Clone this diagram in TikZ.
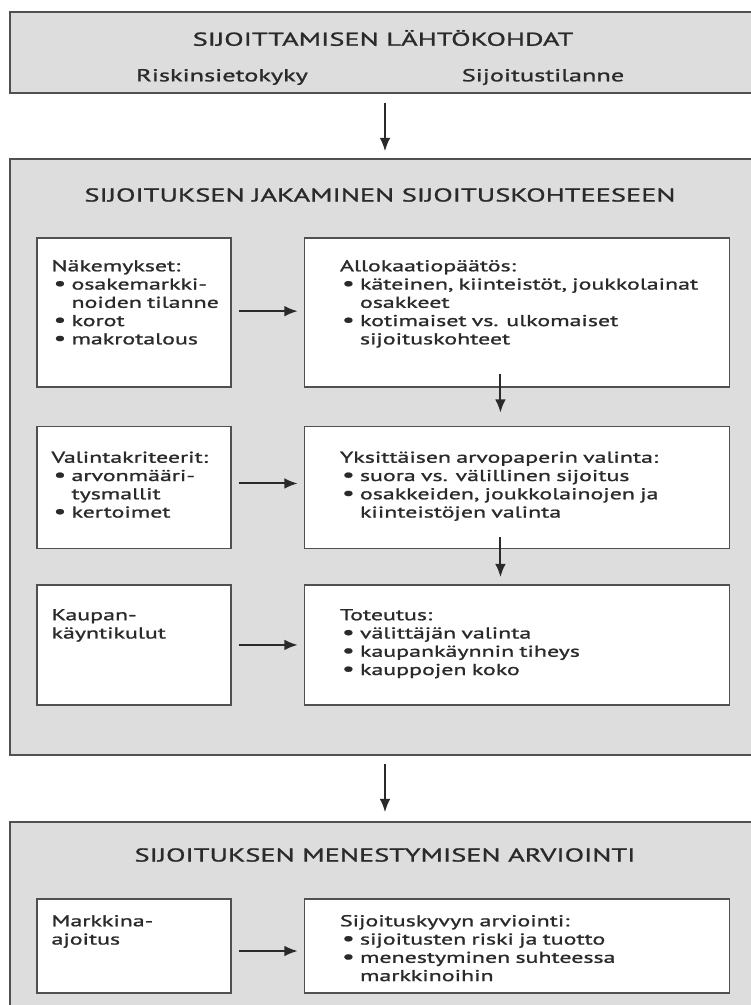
\documentclass[tikz,border=0pt]{standalone}
\usepackage{fontspec}
\setmainfont{PT Sans}[FakeStretch=1.52,FakeBold=1.2]
\usetikzlibrary{positioning}
\usetikzlibrary{arrows.meta}
\definecolor{panelgray}{HTML}{DDDDDD}
\definecolor{linegray}{HTML}{505050}
\definecolor{inkgray}{HTML}{2A2A2A}
\newcommand*{\titlefont}{\fontsize{14}{16}\selectfont}
\newcommand*{\subfont}{\fontsize{13}{15}\selectfont}
\newcommand*{\bodyfont}{\fontsize{11.8}{13.7}\selectfont}
\newcommand*{\blt}{\par\makebox[15pt][l]{\hspace{1.5pt}{\fontsize{14}{14}\selectfont\textbullet}}}
\newcommand*{\cnt}{\par\hspace*{15pt}}
\tikzset{
  panel/.style={draw=linegray, line width=1.1pt, fill=panelgray, minimum width=562.5pt},
  box/.style={draw=linegray, line width=1.1pt, fill=white},
  lbox/.style={box, minimum width=145.5pt},
  rbox/.style={box, minimum width=318.75pt},
  txt/.style={inner sep=0pt, text width=#1, align=left, anchor=base west, font=\bodyfont, text=inkgray},
  arr/.style={-{Latex[length=10pt,width=8pt]}, line width=1.5pt, draw=inkgray}
}

\begin{document}
\begin{tikzpicture}[x=0.75pt,y=-0.75pt]
\useasboundingbox (0,0) rectangle (750,1005);
\fill[white] (0,0) rectangle (750,1005);

% Lahtokohdat
\node[panel, minimum height=60.75pt] (lahto) at (385,52.5) {};
\node[font=\titlefont, text=inkgray] (lahtotitle) at (383,38) {SIJOITTAMISEN LÄHTÖKOHDAT};
\node[font=\subfont, text=inkgray] (riski) at (222,77) {Riskinsietokyky};
\node[font=\subfont, text=inkgray] (tilanne) at (543,77) {Sijoitustilanne};

% Jakaminen
\node[panel, minimum height=447pt] (jako) at (385,457) {};
\node[font=\titlefont, text=inkgray] (jakotitle) at (380,195) {SIJOITUKSEN JAKAMINEN SIJOITUSKOHTEESEEN};

% Row 1
\node[lbox, minimum height=111.75pt] (nak) at (134,312.5) {};
\node[rbox, minimum height=111.75pt, right=54pt of nak] (allok) {};
\node[txt=150pt] (naktext) at ([xshift=11.25pt,yshift=-25.5pt]nak.north west)
  {Näkemykset:\blt osakemarkki-\cnt noiden tilanne\blt korot\blt makrotalous};
\node[txt=300pt] (alloktext) at ([xshift=27pt,yshift=-25.5pt]allok.north west)
  {Allokaatiopäätös:\blt käteinen, kiinteistöt, joukkolainat\cnt osakkeet\blt kotimaiset vs. ulkomaiset\cnt sijoituskohteet};

% Row 2
\node[lbox, minimum height=91.5pt, below=28.5pt of nak] (krit) {};
\node[rbox, minimum height=91.5pt, right=54pt of krit] (valinta) {};
\node[txt=150pt] (krittext) at ([xshift=11.25pt,yshift=-27.75pt]krit.north west)
  {Valintakriteerit:\blt arvonmääri-\cnt tysmallit\blt kertoimet};
\node[txt=300pt] (valintatext) at ([xshift=27pt,yshift=-27.75pt]valinta.north west)
  {Yksittäisen arvopaperin valinta:\blt suora vs. välillinen sijoitus\blt osakkeiden, joukkolainojen ja\cnt kiinteistöjen valinta};

% Row 3
\node[lbox, minimum height=90pt, below=26.25pt of krit] (kulut) {};
\node[rbox, minimum height=90pt, right=54pt of kulut] (toteutus) {};
\node[txt=150pt] (kulutext) at ([xshift=11.25pt,yshift=-27pt]kulut.north west)
  {Kaupan-\\käyntikulut};
\node[txt=300pt] (toteutustext) at ([xshift=27pt,yshift=-27pt]toteutus.north west)
  {Toteutus:\blt välittäjän valinta\blt kaupankäynnin tiheys\blt kauppojen koko};

% Arviointi
\node[panel, minimum height=144.75pt] (arvio) at (385,918.5) {};
\node[font=\titlefont, text=inkgray] (arviotitle) at (385,855) {SIJOITUKSEN MENESTYMISEN ARVIOINTI};
\node[lbox, minimum height=70.5pt] (ajoitus) at (134,946) {};
\node[rbox, minimum height=70.5pt, right=54pt of ajoitus] (kyky) {};
\node[txt=150pt] (ajoitustext) at ([xshift=11.25pt,yshift=-21pt]ajoitus.north west)
  {Markkina-\\ajoitus};
\node[txt=300pt] (kykytext) at ([xshift=27pt,yshift=-21pt]kyky.north west)
  {Sijoituskyvyn arviointi:\blt sijoitusten riski ja tuotto\blt menestyminen suhteessa\cnt markkinoihin};

% Arrows
\draw[arr, shorten <=6.75pt, shorten >=5.25pt] (lahto.south) -- (jako.north);
\draw[arr, shorten <=6pt, shorten >=6.75pt] (jako.south) -- (arvio.north);
\draw[arr, shorten <=5.25pt, shorten >=4.5pt] ([yshift=1pt]nak.east) -- ([yshift=1pt]allok.west);
\draw[arr, shorten <=5.25pt, shorten >=4.5pt] ([yshift=3pt]krit.east) -- ([yshift=3pt]valinta.west);
\draw[arr, shorten <=5.25pt, shorten >=4.5pt] (kulut.east) -- (toteutus.west);
\draw[arr, shorten <=5.25pt, shorten >=4.5pt] ([yshift=-3.75pt]ajoitus.east) -- ([yshift=-3.75pt]kyky.west);
\draw[arr] ([xshift=-12.4pt,yshift=10.5pt]allok.south) -- ([xshift=-12.4pt,yshift=9.75pt]valinta.north);
\draw[arr] ([xshift=-12.4pt,yshift=9pt]valinta.south) -- ([xshift=-12.4pt,yshift=5.25pt]toteutus.north);
\end{tikzpicture}
\end{document}
